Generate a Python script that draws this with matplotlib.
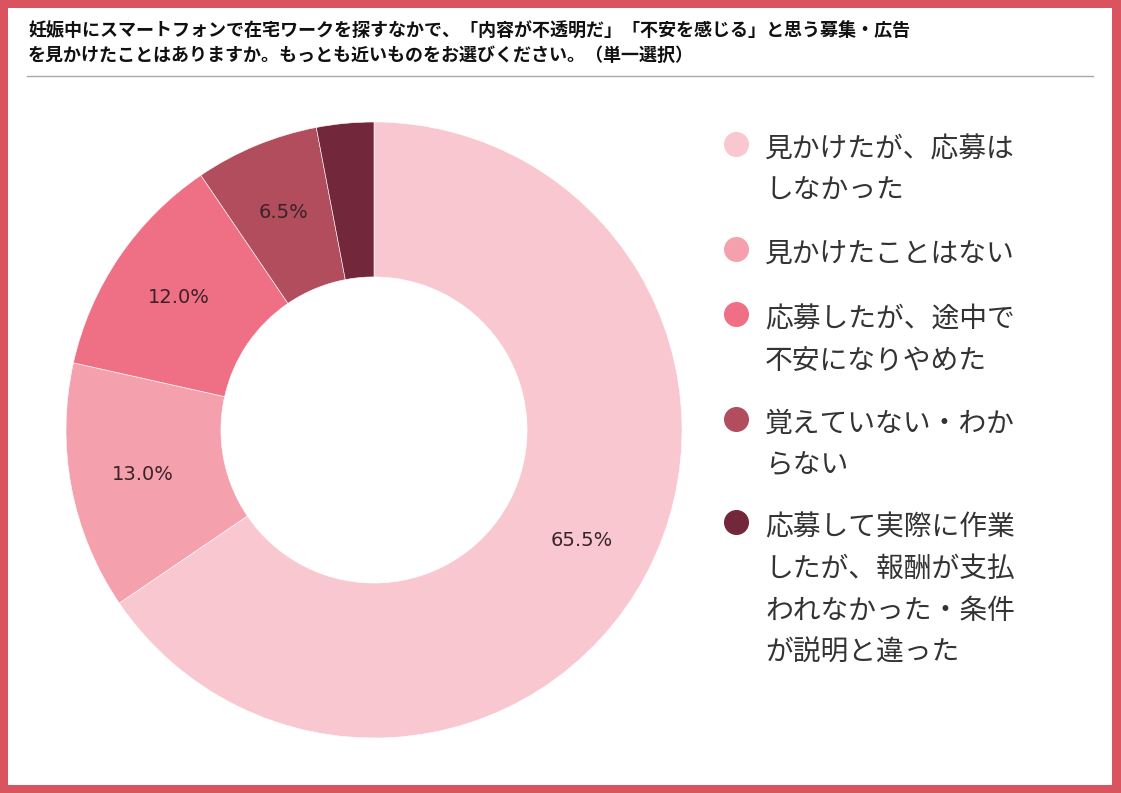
import matplotlib
matplotlib.use("Agg")
import matplotlib.pyplot as plt
from matplotlib.patches import Rectangle
from matplotlib.lines import Line2D

plt.rcParams['font.family'] = ['Noto Sans CJK JP', 'DejaVu Sans']

title_lines = [
    "妊娠中にスマートフォンで在宅ワークを探すなかで、「内容が不透明だ」「不安を感じる」と思う募集・広告",
    "を見かけたことはありますか。もっとも近いものをお選びください。（単一選択）",
]
categories = [
    "見かけたが、応募は\nしなかった",
    "見かけたことはない",
    "応募したが、途中で\n不安になりやめた",
    "覚えていない・わか\nらない",
    "応募して実際に作業\nしたが、報酬が支払\nわれなかった・条件\nが説明と違った",
]
values = [65.5, 13.0, 12.0, 6.5, 3.0]
colors = ["#F8C7D0", "#F5A1AD", "#EF7085", "#B24D5E", "#72283A"]

W, H = 1121, 793
fig = plt.figure(figsize=(W / 100, H / 100), dpi=100)
fig.patch.set_facecolor("#D9545F")
# white panel inside red frame
fig.add_artist(Rectangle((8 / W, 8 / H), (1112 - 8) / W, (785 - 8) / H,
                         transform=fig.transFigure, facecolor="white",
                         edgecolor="none", zorder=0))

# title
fig.text(28 / W, 1 - 31 / H, title_lines[0], fontsize=13.0, fontweight="bold",
         color="#111111", va="center", ha="left")
fig.text(28 / W, 1 - 55 / H, title_lines[1], fontsize=13.0, fontweight="bold",
         color="#111111", va="center", ha="left")
fig.add_artist(Line2D([27 / W, 1093 / W], [1 - 76 / H, 1 - 76 / H],
                      transform=fig.transFigure, color="#A8A8A8", lw=1))

# donut
cx, cy, r = 374, 430, 308
ax = fig.add_axes([(cx - r) / W, (H - cy - r) / H, 2 * r / W, 2 * r / H])
wedges, texts, autotexts = ax.pie(
    values, colors=colors, startangle=90, counterclock=False, radius=1.0,
    autopct=lambda p: f"{p:.1f}%" if p > 5 else "", pctdistance=0.765,
    wedgeprops=dict(width=0.503, edgecolor="white", linewidth=0.4),
    textprops=dict(fontsize=14, color="#3A2228", family="DejaVu Sans"))
ax.set_xlim(-1, 1)
ax.set_ylim(-1, 1)
ax.set_aspect("equal")
ax.axis("off")

# legend
row_y = [147, 252, 317, 422, 525]
for lab, col, y in zip(categories, colors, row_y):
    fig.add_artist(Line2D([736 / W], [1 - (y - 3) / H], marker="o", markersize=17,
                          markerfacecolor=col, markeredgecolor=col,
                          transform=fig.transFigure))
    fig.text(765 / W, 1 - (y - 13) / H, lab, fontsize=20, color="#333333",
             va="top", ha="left", linespacing=1.52)

fig.savefig("out.png", dpi=100, facecolor=fig.get_facecolor())
